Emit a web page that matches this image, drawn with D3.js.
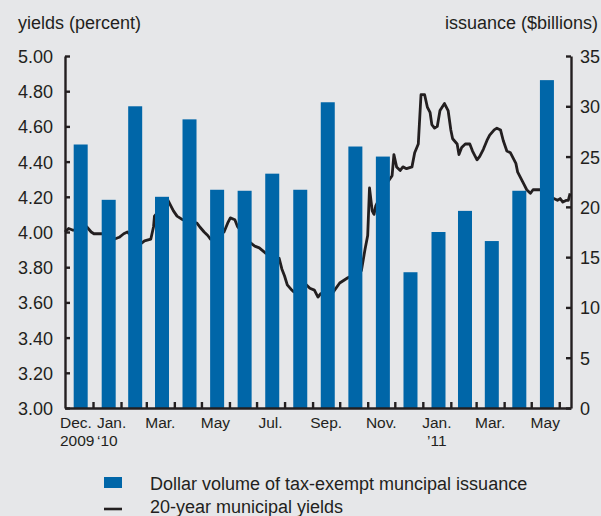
<!DOCTYPE html>
<html>
<head>
<meta charset="utf-8">
<script src="https://cdn.jsdelivr.net/npm/d3@7"></script>
<style>
  body { margin: 0; background: #e6e7e9; }
  svg { display: block; font-family: "Liberation Sans", Arial, Helvetica, sans-serif; }
  .lbl { fill: #231f20; font-size: 18px; }
  .mon { fill: #231f20; font-size: 15.5px; }
</style>
</head>
<body>
<div id="chart"></div>
<script>
// monthly issuance ($billions), Dec 2009 - May 2011
const months = ['2009-12','2010-01','2010-02','2010-03','2010-04','2010-05','2010-06','2010-07','2010-08',
  '2010-09','2010-10','2010-11','2010-12','2011-01','2011-02','2011-03','2011-04','2011-05'];
const issuance = [26.2, 20.7, 30.0, 21.0, 28.7, 21.7, 21.6, 23.3, 21.7,
  30.4, 26.0, 25.0, 13.5, 17.5, 19.6, 16.6, 21.6, 32.6];

// 20-year municipal yields (percent)
const yieldDates = ['2009-12-01','2009-12-05','2009-12-10','2009-12-25','2009-12-30','2010-01-02','2010-01-08','2010-01-11',
  '2010-01-25','2010-01-30','2010-02-04','2010-02-08','2010-02-22','2010-02-27','2010-03-06','2010-03-09','2010-03-10',
  '2010-03-25','2010-03-31','2010-04-04','2010-04-10','2010-04-26','2010-04-29','2010-05-04','2010-05-08','2010-05-11',
  '2010-05-26','2010-05-30','2010-06-02','2010-06-07','2010-06-10','2010-06-24','2010-06-29','2010-07-04','2010-07-11',
  '2010-07-26','2010-07-29','2010-08-01','2010-08-04','2010-08-09','2010-08-11','2010-08-25','2010-08-29','2010-09-03',
  '2010-09-07','2010-09-10','2010-09-24','2010-10-01','2010-10-07','2010-10-10','2010-10-25','2010-10-29','2010-11-01',
  '2010-11-03','2010-11-06','2010-11-08','2010-11-10','2010-11-24','2010-11-28','2010-11-30','2010-12-03','2010-12-07',
  '2010-12-10','2010-12-14','2010-12-20','2010-12-23','2010-12-27','2010-12-30','2011-01-03','2011-01-06','2011-01-09',
  '2011-01-11','2011-01-14','2011-01-17','2011-01-20','2011-01-25','2011-01-29','2011-02-01','2011-02-03','2011-02-08',
  '2011-02-10','2011-02-13','2011-02-17','2011-02-22','2011-02-25','2011-03-02','2011-03-05','2011-03-09','2011-03-13',
  '2011-03-16','2011-03-21','2011-03-24','2011-03-28','2011-03-31','2011-04-04','2011-04-08','2011-04-11','2011-04-14',
  '2011-04-16','2011-04-21','2011-04-23','2011-04-26','2011-04-30','2011-05-03','2011-05-08','2011-05-11','2011-05-26',
  '2011-05-30','2011-06-02','2011-06-05','2011-06-09','2011-06-11','2011-06-13'];
const yields = [4.00,4.02,4.01,4.03,4.00,3.99,3.99,3.99,
  3.96,3.97,3.99,4.00,3.93,3.95,3.96,4.03,4.09,
  4.18,4.12,4.09,4.07,4.05,4.03,4.00,3.98,3.96,
  4.00,4.05,4.08,4.07,4.03,3.94,3.92,3.91,3.88,
  3.85,3.79,3.75,3.70,3.67,3.66,3.70,3.68,3.67,
  3.63,3.65,3.66,3.71,3.73,3.74,3.78,3.90,3.98,
  4.25,4.12,4.10,4.15,4.29,4.32,4.44,4.37,4.35,
  4.37,4.36,4.37,4.45,4.50,4.78,4.78,4.71,4.68,
  4.61,4.59,4.60,4.69,4.73,4.69,4.58,4.53,4.50,
  4.44,4.48,4.50,4.50,4.46,4.41,4.43,4.47,4.52,
  4.55,4.58,4.59,4.58,4.52,4.46,4.45,4.42,4.39,
  4.34,4.29,4.27,4.24,4.22,4.24,4.24,4.24,4.19,
  4.18,4.19,4.17,4.18,4.18,4.22];

const yieldTicks = [3.0, 3.2, 3.4, 3.6, 3.8, 4.0, 4.2, 4.4, 4.6, 4.8, 5.0];
const issuanceTicks = [0, 5, 10, 15, 20, 25, 30, 35];
const monthLabels = [
  { m: '2009-12', l1: 'Dec.', l2: '2009', anchor: 'start', dx: -5 },
  { m: '2010-01', l1: 'Jan.', l2: '\u201810', anchor: 'start', dx: 4 },
  { m: '2010-03', l1: 'Mar.' },
  { m: '2010-05', l1: 'May' },
  { m: '2010-07', l1: 'Jul.' },
  { m: '2010-09', l1: 'Sep.' },
  { m: '2010-11', l1: 'Nov.' },
  { m: '2011-01', l1: 'Jan.', l2: '\u201911' },
  { m: '2011-03', l1: 'Mar.' },
  { m: '2011-05', l1: 'May' }
];

const width = 601, height = 516;
const margin = { left: 65, right: 30, top: 56, bottom: 108 };
const ink = '#231f20';
const blue = '#0066a8';

const parseMonth = d3.timeParse('%Y-%m');
const parseDay = d3.timeParse('%Y-%m-%d');

const svg = d3.select('#chart').append('svg')
  .attr('width', width)
  .attr('height', height);

svg.append('rect').attr('width', width).attr('height', height).attr('fill', '#e6e7e9');

const x = d3.scaleTime()
  .domain([parseDay('2009-12-01'), parseDay('2011-06-14')])
  .range([margin.left, width - margin.right]);

const yLeft = d3.scaleLinear().domain([3, 5]).range([height - margin.bottom, margin.top]);
const yRight = d3.scaleLinear().domain([0, 35]).range([height - margin.bottom, margin.top]);

// yield line (drawn under the bars)
const lineData = yieldDates.map((d, i) => ({ date: parseDay(d), value: yields[i] }));
const line = d3.line().x(d => x(d.date)).y(d => yLeft(d.value));

svg.append('path')
  .datum(lineData)
  .attr('fill', 'none')
  .attr('stroke', ink)
  .attr('stroke-width', 2.8)
  .attr('stroke-linejoin', 'round')
  .attr('d', line);

// issuance bars
const barW = 14;
svg.append('g').selectAll('rect')
  .data(months.map((m, i) => ({ start: parseMonth(m), value: issuance[i] })))
  .join('rect')
    .attr('x', d => {
      const x0 = x(d.start), x1 = x(d3.timeMonth.offset(d.start, 1));
      return x0 + (x1 - x0) * 0.56 - barW / 2;
    })
    .attr('y', d => yRight(d.value))
    .attr('width', barW)
    .attr('height', d => yRight(0) - yRight(d.value))
    .attr('fill', blue);

// axes
const axisStyle = g => {
  g.select('.domain').attr('stroke', ink).attr('stroke-width', 2.4);
  g.selectAll('.tick line').attr('stroke', ink).attr('stroke-width', 2.4);
  g.selectAll('.tick text').attr('class', 'lbl').attr('font-family', null).attr('font-size', null);
};

svg.append('g')
  .attr('transform', `translate(${margin.left},0)`)
  .call(d3.axisLeft(yLeft).tickValues(yieldTicks).tickFormat(d3.format('.2f'))
    .tickSizeInner(-5).tickSizeOuter(0).tickPadding(12))
  .call(axisStyle)
  .call(g => g.selectAll('.tick text').attr('dy', '0.36em'));

svg.append('g')
  .attr('transform', `translate(${width - margin.right},0)`)
  .call(d3.axisRight(yRight).tickValues(issuanceTicks)
    .tickSizeInner(-5).tickSizeOuter(0).tickPadding(9))
  .call(axisStyle)
  .call(g => g.selectAll('.tick text').attr('dy', '0.36em'));

const monthTicks = d3.timeMonth.range(parseDay('2010-01-01'), parseDay('2011-06-02'));
svg.append('g')
  .attr('transform', `translate(0,${height - margin.bottom})`)
  .call(d3.axisBottom(x).tickValues(monthTicks).tickFormat('')
    .tickSizeInner(-6).tickSizeOuter(0))
  .call(axisStyle);

// month labels
const labels = svg.append('g').attr('class', 'mon');
monthLabels.forEach(d => {
  const s = parseMonth(d.m);
  const cx = d.anchor === 'start'
    ? x(s) + d.dx
    : (x(s) + x(d3.timeMonth.offset(s, 1))) / 2;
  const anchor = d.anchor || 'middle';
  labels.append('text').attr('x', cx).attr('y', 428).attr('text-anchor', anchor).text(d.l1);
  if (d.l2) labels.append('text').attr('x', cx).attr('y', 446).attr('text-anchor', anchor).text(d.l2);
});

// axis titles
svg.append('text').attr('class', 'lbl').attr('x', 18).attr('y', 29).text('yields (percent)');
svg.append('text').attr('class', 'lbl').attr('x', 598).attr('y', 29)
  .attr('text-anchor', 'end').text('issuance ($billions)');

// legend
const legend = svg.append('g');
legend.append('rect').attr('x', 104).attr('y', 477).attr('width', 18).attr('height', 11).attr('fill', blue);
legend.append('text').attr('class', 'lbl').attr('x', 150).attr('y', 490)
  .text('Dollar volume of tax-exempt muncipal issuance');
legend.append('line').attr('x1', 104).attr('x2', 122).attr('y1', 509).attr('y2', 509)
  .attr('stroke', ink).attr('stroke-width', 2.6);
legend.append('text').attr('class', 'lbl').attr('x', 150).attr('y', 513)
  .text('20-year municipal yields');
</script>
</body>
</html>
